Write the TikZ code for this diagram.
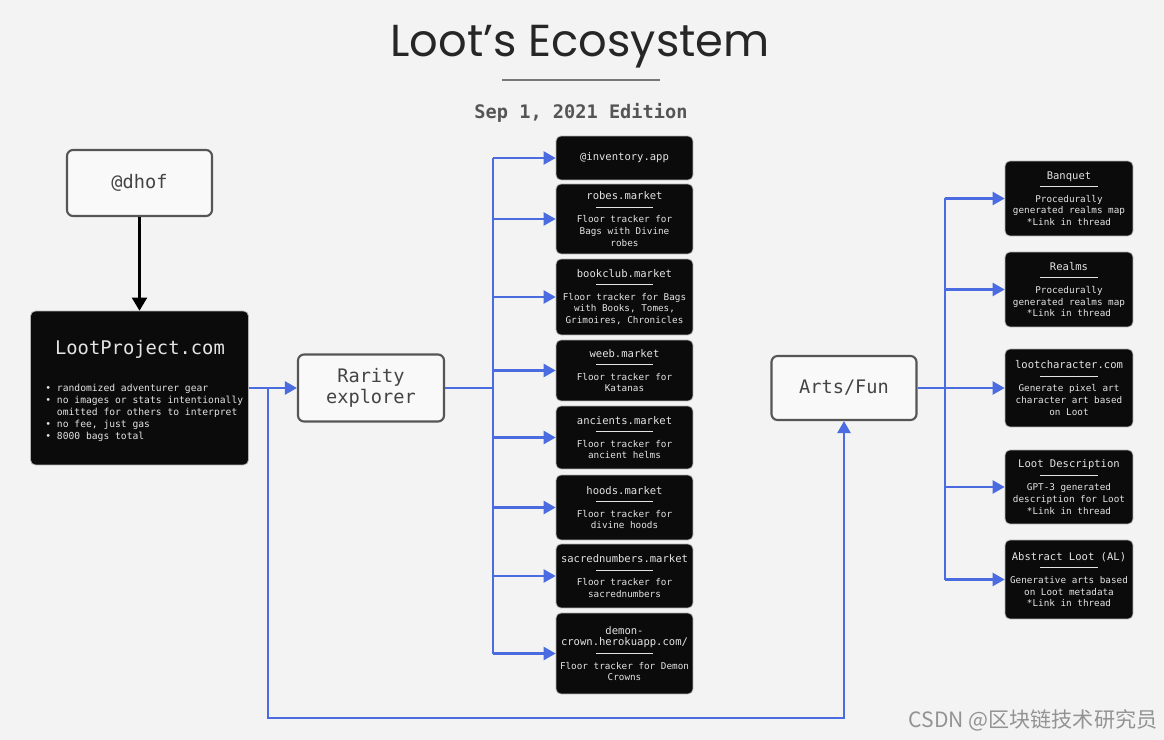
\documentclass[tikz,border=0pt]{standalone}
\usepackage{fontspec}
\setmainfont{Poppins}
\setmonofont{DejaVu Sans Mono}
\newfontfamily\cjkfont{Noto Sans CJK SC}
\usetikzlibrary{arrows.meta}

\definecolor{paper}{HTML}{F3F3F3}
\definecolor{linkblue}{HTML}{4B6BE0}
\definecolor{framegray}{HTML}{555555}
\definecolor{boxblack}{HTML}{0B0B0B}
\definecolor{boxtext}{HTML}{E4E4E4}

\newcommand{\sepline}{\rule[2pt]{1.15cm}{0.5pt}}
\newcommand{\boxhead}[1]{{\fontsize{6}{6.6}\selectfont #1}}

\tikzset{
  lightbox/.style={draw=framegray, line width=1.2pt, fill=paper!50!white, rounded corners=1.2mm,
    minimum width=2.9cm, minimum height=1.32cm, align=center, text=framegray!80!black,
    font=\ttfamily\fontsize{10.6}{12}\selectfont},
  darkbox/.style={draw=gray!60, line width=0.4pt, fill=boxblack, rounded corners=1mm,
    inner xsep=1pt, text=boxtext, align=center, font=\ttfamily\fontsize{5.3}{6.6}\selectfont},
  midbox/.style={darkbox, minimum width=2.74cm},
  sidebox/.style={darkbox, minimum width=2.56cm},
  wire/.style={draw=linkblue, line width=1.3pt},
  flow/.style={wire, -{Triangle[length=2.4mm,width=2.6mm]}},
}

\begin{document}
\begin{tikzpicture}[x=0.02cm, y=-0.02cm]
    \fill[paper] (0,0) rectangle (1164,740);
    \useasboundingbox (0,0) rectangle (1164,740);

    % heading
    \node[font=\fontsize{25.5}{28}\selectfont, text=black!85] (title) at (580,47) {Loot’s Ecosystem};
    \draw[framegray!80, line width=1.2pt] (502,80) -- (660,80);
    \node[font=\ttfamily\bfseries\fontsize{10.6}{12}\selectfont, text=framegray] (edition) at (581,113) {Sep 1, 2021 Edition};

    % left side
    \node[lightbox] (dhof) at (139.5,183) {@dhof};
    \node[darkbox, minimum width=4.36cm, minimum height=3.08cm] (loot) at (139.5,388) {};
    \node[text=boxtext, font=\ttfamily\fontsize{10.7}{12}\selectfont] (loottitle) at (140,349) {LootProject.com};
    \node[text=boxtext, align=left, anchor=west, inner sep=0pt, font=\ttfamily\fontsize{5.5}{6.8}\selectfont] (lootnotes) at (45,413)
        {• randomized adventurer gear\\• no images or stats intentionally\\\hphantom{• }omitted for others to interpret\\• no fee, just gas\\• 8000 bags total};
    \draw[line width=1.2pt, -{Triangle[length=2.6mm,width=3mm]}] (dhof) -- (loot);

    \node[lightbox, minimum width=2.92cm, minimum height=1.34cm] (rarity) at (371,388) {Rarity\\explorer};
    \node[lightbox, minimum height=1.28cm] (arts) at (844,388) {Arts/Fun};

    % middle column
    \node[midbox, minimum height=0.88cm] (inv) at (624.5,158) {\boxhead{@inventory.app}};
    \node[midbox, minimum height=1.40cm] (robes) at (624.5,219) {\boxhead{robes.market}\\\sepline\\Floor tracker for\\Bags with Divine\\robes};
    \node[midbox, minimum height=1.52cm] (bookclub) at (624.5,297) {\boxhead{bookclub.market}\\\sepline\\Floor tracker for Bags\\with Books, Tomes,\\Grimoires, Chronicles};
    \node[midbox, minimum height=1.22cm] (weeb) at (624.5,370.5) {\boxhead{weeb.market}\\\sepline\\Floor tracker for\\Katanas};
    \node[midbox, minimum height=1.26cm] (ancients) at (624.5,437.5) {\boxhead{ancients.market}\\\sepline\\Floor tracker for\\ancient helms};
    \node[midbox, minimum height=1.30cm] (hoods) at (624.5,507.5) {\boxhead{hoods.market}\\\sepline\\Floor tracker for\\divine hoods};
    \node[midbox, minimum height=1.28cm] (sacred) at (624.5,576) {\boxhead{sacrednumbers.market}\\\sepline\\Floor tracker for\\sacrednumbers};
    \node[midbox, minimum height=1.62cm] (demon) at (624.5,653.5) {\boxhead{demon-}\\\boxhead{crown.herokuapp.com/}\\\sepline\\Floor tracker for Demon\\Crowns};

    % right column
    \node[sidebox, minimum height=1.50cm] (banquet) at (1069,198.5) {\boxhead{Banquet}\\\sepline\\Procedurally\\generated realms map\\*Link in thread};
    \node[sidebox, minimum height=1.50cm] (realms) at (1069,289.5) {\boxhead{Realms}\\\sepline\\Procedurally\\generated realms map\\*Link in thread};
    \node[sidebox, minimum height=1.56cm] (lootchar) at (1069,388) {\boxhead{lootcharacter.com}\\\sepline\\Generate pixel art\\character art based\\on Loot};
    \node[sidebox, minimum height=1.48cm] (lootdesc) at (1069,487) {\boxhead{Loot Description}\\\sepline\\GPT-3 generated\\description for Loot\\*Link in thread};
    \node[sidebox, minimum height=1.58cm] (abstract) at (1069,579.5) {\boxhead{Abstract Loot (AL)}\\\sepline\\Generative arts based\\on Loot metadata\\*Link in thread};

    % links
    \coordinate (tap) at (268,388);
    \coordinate (loopcorner) at (268,718);
    \coordinate (midbus) at (493,388);
    \coordinate (artbus) at (945,388);

    \draw[flow] (loot) -- (rarity);
    \draw[flow] (tap) -- (loopcorner) -| (arts.south);

    \draw[wire] (rarity) -- (midbus);
    \draw[wire] (midbus |- inv) -- (midbus |- demon);
    \foreach \n in {inv,robes,bookclub,weeb,ancients,hoods,sacred,demon}
        \draw[flow] (midbus |- \n) -- (\n);

    \draw[wire] (arts) -- (artbus);
    \draw[wire] (artbus |- banquet) -- (artbus |- abstract);
    \foreach \n in {banquet,realms,lootchar,lootdesc,abstract}
        \draw[flow] (artbus |- \n) -- (\n);

    \node[font=\cjkfont\fontsize{12}{14}\selectfont, text=gray!85] (mark) at (1033,720) {CSDN @区块链技术研究员};
\end{tikzpicture}
\end{document}
